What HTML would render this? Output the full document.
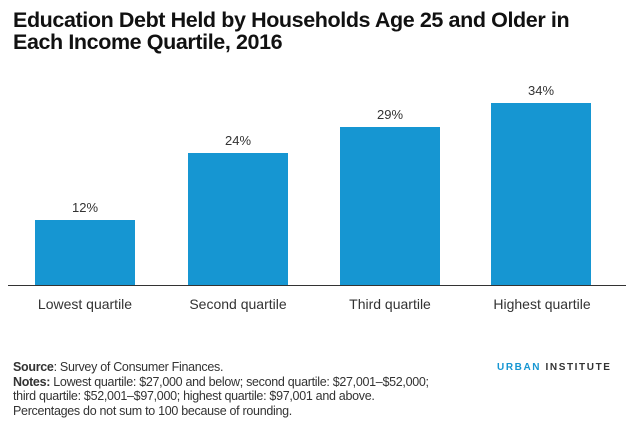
<!DOCTYPE html>
<html><head><meta charset="utf-8"><style>
body{margin:0;width:634px;height:430px;background:#fff;font-family:"Liberation Sans",sans-serif;position:relative;overflow:hidden;color:#1a1a1a}
.t{position:absolute;left:13px;top:9px;font-size:21.5px;line-height:22px;font-weight:bold;letter-spacing:-0.4px;color:#111}
.bar{position:absolute;background:#1696d2;width:100px}
.v{position:absolute;width:100px;text-align:center;font-size:13px;color:#333}
.l{position:absolute;width:150px;text-align:center;font-size:14px;top:296px;color:#333}
.n{position:absolute;left:13px;font-size:12.5px;line-height:14.5px;top:360px;color:#333;letter-spacing:-0.3px}
.ui{position:absolute;left:497px;top:362px;font-size:10px;font-weight:bold;letter-spacing:1.6px}
</style></head><body>
<div class="t">Education Debt Held by Households Age 25 and Older in<br>Each Income Quartile, 2016</div>
<div class="bar" style="left:35px;top:220px;height:65px"></div>
<div class="bar" style="left:188px;top:153px;height:132px"></div>
<div class="bar" style="left:340px;top:127px;height:158px"></div>
<div class="bar" style="left:491px;top:103px;height:182px"></div>
<div class="v" style="left:35px;top:200px">12%</div>
<div class="v" style="left:188px;top:133px">24%</div>
<div class="v" style="left:340px;top:107px">29%</div>
<div class="v" style="left:491px;top:83px">34%</div>
<div style="position:absolute;left:8px;top:285px;width:618px;height:1px;background:#333"></div>
<div class="l" style="left:10px">Lowest quartile</div>
<div class="l" style="left:163px">Second quartile</div>
<div class="l" style="left:315px">Third quartile</div>
<div class="l" style="left:467px">Highest quartile</div>
<div class="n"><b>Source</b>: Survey of Consumer Finances.<br><b>Notes:</b> Lowest quartile: $27,000 and below; second quartile: $27,001–$52,000;<br>third quartile: $52,001–$97,000; highest quartile: $97,001 and above.<br>Percentages do not sum to 100 because of rounding.</div>
<div class="ui"><span style="color:#1696d2">URBAN</span> <span style="color:#333">INSTITUTE</span></div>
</body></html>
